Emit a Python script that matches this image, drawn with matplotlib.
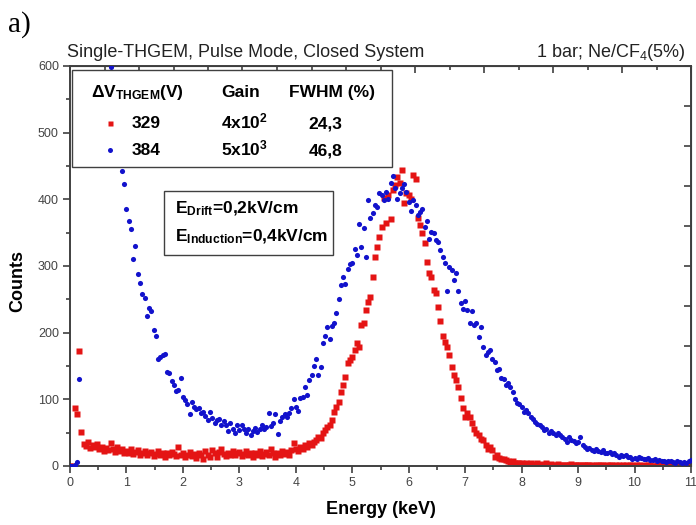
import numpy as np
import matplotlib.pyplot as plt
from matplotlib.patches import Rectangle
from matplotlib.ticker import MultipleLocator

plt.rcParams['font.family'] = ['Liberation Sans', 'DejaVu Sans']
plt.rcParams['mathtext.fontset'] = 'custom'
plt.rcParams['mathtext.rm'] = 'Liberation Sans'
plt.rcParams['mathtext.bf'] = 'Liberation Sans:bold'
plt.rcParams['mathtext.it'] = 'Liberation Sans:italic'

# pulse-height spectra, 0.04 keV per channel, one line per keV (last value = 11 keV)
bin_width = 0.04

counts_329 = [
    0, 0, 87, 78, 172, 51, 33, 30, 36, 27, 31, 28, 33, 25, 29, 22, 27, 24, 34, 26, 21, 28, 23, 26, 20,
    22, 19, 25, 18, 21, 24, 17, 20, 23, 16, 19, 21, 15, 18, 22, 17, 20, 14, 19, 16, 21, 18, 15, 28, 17,
    19, 14, 17, 21, 15, 18, 12, 20, 16, 11, 22, 17, 14, 24, 19, 13, 21, 26, 18, 15, 20, 17, 23, 16, 19,
    21, 15, 18, 22, 16, 19, 14, 20, 17, 23, 15, 18, 21, 16, 25, 19, 14, 20, 17, 22, 18, 21, 16, 24, 35,
    26, 22, 29, 25, 31, 28, 34, 31, 36, 39, 44, 42, 49, 54, 59, 61, 69, 81, 89, 96, 111, 121, 134, 154, 159,
    164, 174, 184, 179, 211, 214, 234, 246, 254, 283, 313, 329, 344, 359, 402, 364, 406, 371, 414, 421, 434, 424, 444, 394, 409,
    406, 400, 436, 430, 372, 361, 349, 335, 306, 289, 284, 264, 259, 239, 218, 195, 186, 178, 166, 149, 136, 129, 119, 102, 87,
    74, 79, 74, 64, 56, 49, 46, 41, 39, 31, 26, 28, 24, 14, 16, 12, 10, 11, 9, 8, 6, 7, 5, 4, 5,
    4, 3, 5, 3, 4, 2, 3, 4, 2, 3, 2, 4, 2, 3, 1, 2, 3, 2, 1, 2, 2, 1, 3, 1, 2,
    2, 1, 2, 1, 1, 2, 1, 0, 1, 2, 1, 1, 0, 1, 2, 1, 0, 1, 1, 0, 1, 1, 0, 1, 1,
    0, 1, 1, 0, 1, 0, 1, 1, 0, 0, 1, 0, 1, 0, 0, 1, 0, 0, 1, 0, 0, 1, 0, 0, 1,
    0,
]

# channels 0.20-0.68 keV run off the top of the scale
counts_384 = [
    0, 0, 2, 6, 130, 1900, 1700, 1500, 1350, 1200, 1080, 980, 900, 830, 760, 710, 670, 630, 598, 560, 520, 490, 460, 442, 423,
    385, 368, 355, 310, 330, 288, 275, 258, 252, 225, 237, 233, 204, 195, 160, 163, 166, 168, 141, 140, 128, 121, 112, 114, 132,
    103, 99, 93, 78, 96, 89, 86, 87, 80, 81, 75, 69, 81, 72, 65, 69, 70, 61, 67, 61, 53, 64, 55, 50, 62,
    54, 61, 56, 50, 55, 46, 53, 57, 51, 55, 61, 56, 59, 80, 60, 65, 78, 48, 68, 73, 78, 74, 80, 87, 100,
    89, 82, 102, 104, 119, 107, 129, 136, 150, 161, 137, 148, 184, 195, 208, 190, 210, 214, 229, 250, 271, 283, 273, 296, 303,
    304, 325, 317, 363, 329, 357, 313, 399, 372, 379, 391, 388, 410, 406, 399, 411, 400, 424, 435, 417, 400, 410, 417, 423, 411,
    396, 382, 399, 391, 376, 381, 386, 359, 367, 341, 351, 350, 339, 336, 324, 313, 304, 262, 299, 294, 279, 290, 263, 244, 236,
    247, 234, 214, 233, 211, 214, 193, 209, 178, 166, 171, 174, 161, 156, 144, 146, 132, 130, 121, 124, 119, 111, 100, 94, 93,
    88, 81, 84, 79, 74, 70, 66, 63, 61, 58, 54, 56, 49, 52, 50, 46, 49, 47, 44, 41, 36, 44, 39, 37, 34,
    36, 44, 31, 29, 26, 27, 24, 22, 25, 23, 21, 24, 20, 19, 21, 18, 19, 16, 14, 17, 15, 16, 13, 14, 11,
    12, 10, 14, 12, 11, 10, 12, 9, 9, 11, 8, 9, 7, 8, 6, 7, 8, 6, 5, 7, 6, 5, 6, 4, 7,
    9,
]

energy = np.arange(len(counts_329)) * bin_width

voltages = ['329', '384']
gains = [r'4x10$^{\mathbf{2}}$', r'5x10$^{\mathbf{3}}$']
fwhm = ['24,3', '46,8']
colors = ['#e41414', '#1212cc']
markers = ['s', 'o']

axis_col = '#404040'

fig = plt.figure(figsize=(6.96, 5.25), dpi=100)
ax = fig.add_axes([70 / 696, 1 - 466 / 525, 621 / 696, 400 / 525])

ax.plot(energy, counts_329, markers[0], color=colors[0], ms=3.7, mec='none', zorder=2)
ax.plot(energy, counts_384, markers[1], color=colors[1], ms=3.7, mec='none', zorder=3)

ax.set_xlim(0, 11)
ax.set_ylim(0, 600)
ax.xaxis.set_major_locator(MultipleLocator(1))
ax.xaxis.set_minor_locator(MultipleLocator(0.5))
ax.yaxis.set_major_locator(MultipleLocator(100))
ax.yaxis.set_minor_locator(MultipleLocator(50))
ax.tick_params(which='both', direction='out', top=False, right=False,
               color=axis_col, labelcolor='#444444', labelsize=9, width=1.2)
ax.tick_params(which='major', length=5, pad=3)
ax.tick_params(which='minor', length=3)
for s in ax.spines.values():
    s.set_color(axis_col)
    s.set_linewidth(1.4)

# mirrored frame ticks pointing inward
top = ax.secondary_xaxis('top', functions=(lambda e: e * 9 / 11, lambda t: t * 11 / 9))
top.xaxis.set_major_locator(MultipleLocator(1))
top.xaxis.set_minor_locator(MultipleLocator(0.5))
top.tick_params(which='both', direction='in', labeltop=False, color=axis_col, width=1.2)
top.tick_params(which='major', length=5)
top.tick_params(which='minor', length=3)
right = ax.secondary_yaxis('right', functions=(lambda c: c / 60, lambda t: t * 60))
right.yaxis.set_major_locator(MultipleLocator(1))
right.tick_params(which='both', direction='in', labelright=False, color=axis_col, width=1.2, length=5)
right.yaxis.set_minor_locator(MultipleLocator(100))

# table-style legend
ax.add_patch(Rectangle((0.0035, 0.748), 0.5145, 0.242, transform=ax.transAxes,
                       facecolor='white', edgecolor=axis_col, lw=1.0, zorder=5))
fs = 12.5
ax.text(0.034, 0.923, r'ΔV$_{\mathbf{THGEM}}$(V)', transform=ax.transAxes,
        fontsize=fs, fontweight='bold', va='baseline', zorder=6)
ax.text(0.2754, 0.923, 'Gain', transform=ax.transAxes, fontsize=fs,
        fontweight='bold', ha='center', va='baseline', zorder=6)
ax.text(0.4219, 0.923, 'FWHM (%)', transform=ax.transAxes, fontsize=fs,
        fontweight='bold', ha='center', va='baseline', zorder=6)
for i, yb in enumerate([0.844, 0.7775]):
    ax.plot([0.0644], [yb + 0.013], markers[i], color=colors[i], ms=3.6, mec='none',
            transform=ax.transAxes, zorder=6, clip_on=False)
    ax.text(0.0998, yb, voltages[i], transform=ax.transAxes, fontsize=fs,
            fontweight='bold', va='baseline', zorder=6)
    ax.text(0.243, yb, gains[i], transform=ax.transAxes, fontsize=fs,
            fontweight='bold', va='baseline', zorder=6)
    ax.text(0.4114, yb, fwhm[i], transform=ax.transAxes, fontsize=fs,
            fontweight='bold', ha='center', va='baseline', zorder=6)

# field settings box
ax.add_patch(Rectangle((0.1514, 0.5275), 0.2721, 0.16, transform=ax.transAxes,
                       facecolor='white', edgecolor=axis_col, lw=1.0, zorder=5))
ax.text(0.169, 0.632, r'E$_{\mathbf{Drift}}$=0,2kV/cm', transform=ax.transAxes,
        fontsize=fs, fontweight='bold', va='baseline', zorder=6)
ax.text(0.169, 0.561, r'E$_{\mathbf{Induction}}$=0,4kV/cm', transform=ax.transAxes,
        fontsize=fs, fontweight='bold', va='baseline', zorder=6)

fig.text(67 / 696, 1 - 57 / 525, 'Single-THGEM, Pulse Mode, Closed System',
         fontsize=13, color='#222222', va='baseline')
fig.text(686 / 696, 1 - 57 / 525, r'1 bar; Ne/CF$_4$(5%)', fontsize=13,
         color='#222222', ha='right', va='baseline')
fig.text(8 / 696, 1 - 32 / 525, 'a)', family='Liberation Serif', fontsize=21,
         va='baseline')
fig.text(381 / 696, 1 - 514 / 525, 'Energy (keV)', fontsize=13, fontweight='bold',
         ha='center', va='baseline')
fig.text(18 / 696, 1 - 281 / 525, 'Counts', fontsize=13, fontweight='bold',
         rotation=90, ha='center', va='center')

fig.savefig('out.png', dpi=100)
